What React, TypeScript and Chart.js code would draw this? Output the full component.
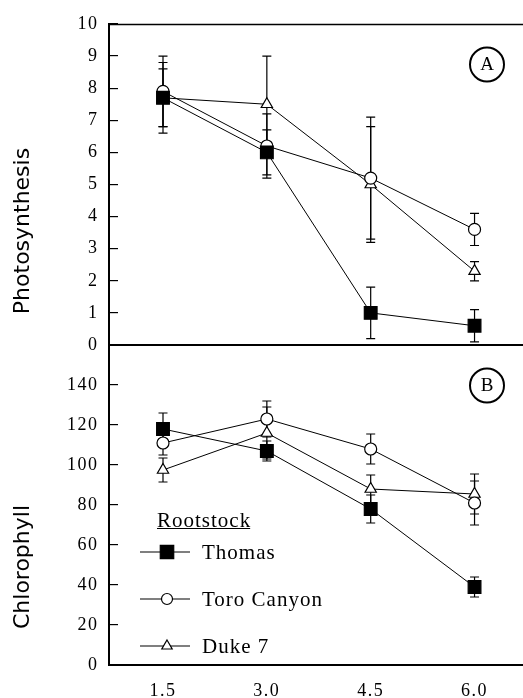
import React, { useEffect, useRef } from 'react';
import { Chart, registerables } from 'chart.js';

Chart.register(...registerables);

// ---------- data ----------
const xValues = [1.5, 3.0, 4.5, 6.0];
const xTicks = [1.5, 3.0, 4.5, 6.0];
const seriesNames = ['Thomas', 'Toro Canyon', 'Duke 7'];

const photoThomas = [7.7, 6.0, 1.0, 0.6];
const photoThomasErr = [1.1, 0.7, 0.8, 0.5];
const photoToro = [7.9, 6.2, 5.2, 3.6];
const photoToroErr = [1.1, 1.0, 1.9, 0.5];
const photoDuke = [7.7, 7.5, 5.0, 2.3];
const photoDukeErr = [0.9, 1.5, 1.8, 0.3];

const chloroThomas = [118, 107, 78, 39];
const chloroThomasErr = [8, 5, 7, 5];
const chloroToro = [111, 123, 108, 81];
const chloroToroErr = [6, 9, 7.5, 11];
const chloroDuke = [97.5, 116, 88, 85.5];
const chloroDukeErr = [6, 13, 7, 10];

const photoTicks = [0, 1, 2, 3, 4, 5, 6, 7, 8, 9, 10];
const chloroTicks = [0, 20, 40, 60, 80, 100, 120, 140];

const photoTitle = 'Photosynthesis';
const chloroTitle = 'Chlorophyll';
const legendTitle = 'Rootstock';
const panelLetters = ['A', 'B'];

// ---------- styles ----------
const W = 523;
const H = 698;
const serif = '"Liberation Serif", "Times New Roman", serif';
const sans = '"DejaVu Sans", sans-serif';
const markerStyles = [
  { pointStyle: 'rect', radius: 9, fill: '#000' },
  { pointStyle: 'circle', radius: 6, fill: '#fff' },
  { pointStyle: 'triangle', radius: 6.5, fill: '#fff' },
];

function makeDatasets(vals: number[][], errs: number[][]) {
  return vals.map((v, i) => ({
    label: seriesNames[i],
    data: xValues.map((x, j) => ({ x, y: v[j] })),
    errors: errs[i],
    borderColor: '#000',
    borderWidth: 1,
    backgroundColor: markerStyles[i].fill,
    pointStyle: markerStyles[i].pointStyle,
    pointRadius: markerStyles[i].radius,
    pointBackgroundColor: markerStyles[i].fill,
    pointBorderColor: '#000',
    pointBorderWidth: 1.2,
    tension: 0,
    clip: false,
  }));
}

const spacingPlugin = {
  id: 'tickSpacing',
  beforeDraw(chart: any) {
    (chart.ctx as any).letterSpacing = '1.5px';
  },
  afterDraw(chart: any) {
    (chart.ctx as any).letterSpacing = '0px';
  },
};

const errorBarPlugin = {
  id: 'errorBars',
  beforeDatasetsDraw(chart: any) {
    const ctx = chart.ctx;
    const ys = chart.scales.y;
    ctx.save();
    ctx.strokeStyle = '#000';
    ctx.lineWidth = 1.2;
    chart.data.datasets.forEach((ds: any, i: number) => {
      const meta = chart.getDatasetMeta(i);
      meta.data.forEach((pt: any, j: number) => {
        const v = ds.data[j].y;
        const e = ds.errors[j];
        const yt = ys.getPixelForValue(v + e);
        const yb = ys.getPixelForValue(v - e);
        const x = pt.x;
        ctx.beginPath();
        ctx.moveTo(x, yt);
        ctx.lineTo(x, yb);
        ctx.moveTo(x - 4.5, yt);
        ctx.lineTo(x + 4.5, yt);
        ctx.moveTo(x - 4.5, yb);
        ctx.lineTo(x + 4.5, yb);
        ctx.stroke();
      });
    });
    ctx.restore();
  },
};

function drawMarker(ctx: CanvasRenderingContext2D, style: string, x: number, y: number, r: number, fill: string) {
  ctx.beginPath();
  if (style === 'rect') {
    const s = Math.SQRT1_2 * r;
    ctx.rect(x - s, y - s, 2 * s, 2 * s);
  } else if (style === 'circle') {
    ctx.arc(x, y, r, 0, Math.PI * 2);
  } else {
    for (let k = 0; k < 3; k++) {
      const a = (k * 2 * Math.PI) / 3;
      const px = x + Math.sin(a) * r;
      const py = y - Math.cos(a) * r;
      if (k === 0) ctx.moveTo(px, py);
      else ctx.lineTo(px, py);
    }
    ctx.closePath();
  }
  ctx.fillStyle = fill;
  ctx.fill();
  ctx.lineWidth = 1.2;
  ctx.strokeStyle = '#000';
  ctx.stroke();
}

function decorPlugin(kind: 'top' | 'bottom') {
  return {
    id: 'decor_' + kind,
    afterDraw(chart: any) {
      const ctx = chart.ctx as CanvasRenderingContext2D;
      const a = chart.chartArea;
      ctx.save();
      (ctx as any).letterSpacing = '0px';
      // panel letter in circle
      const cx = a.right - 36;
      const cy = a.top + 40.5;
      ctx.beginPath();
      ctx.arc(cx, cy, 17, 0, Math.PI * 2);
      ctx.lineWidth = 2;
      ctx.strokeStyle = '#000';
      ctx.stroke();
      ctx.fillStyle = '#000';
      ctx.font = `19px ${serif}`;
      ctx.textAlign = 'center';
      ctx.textBaseline = 'middle';
      ctx.fillText(kind === 'top' ? panelLetters[0] : panelLetters[1], cx, cy + 1);

      // axis title
      ctx.save();
      ctx.font = `22px ${sans}`;
      ctx.fillStyle = '#000';
      ctx.textAlign = 'center';
      ctx.textBaseline = 'middle';
      if (kind === 'top') {
        ctx.translate(23, 231);
        ctx.rotate(-Math.PI / 2);
        ctx.fillText(photoTitle, 0, 0);
      } else {
        ctx.translate(23, 567);
        ctx.rotate(-Math.PI / 2);
        ctx.fillText(chloroTitle, 0, 0);
      }
      ctx.restore();

      if (kind === 'top') {
        // top frame line
        ctx.beginPath();
        ctx.moveTo(a.left, a.top + 0.5);
        ctx.lineTo(a.right, a.top + 0.5);
        ctx.lineWidth = 1.3;
        ctx.strokeStyle = '#000';
        ctx.stroke();
      } else {
        // legend
        (ctx as any).letterSpacing = '1px';
        ctx.font = `21px ${serif}`;
        ctx.fillStyle = '#000';
        ctx.textAlign = 'left';
        ctx.textBaseline = 'middle';
        const tx = a.left + 48;
        const ty = a.top + 176;
        ctx.fillText(legendTitle, tx, ty);
        const tw = ctx.measureText(legendTitle).width;
        ctx.beginPath();
        ctx.moveTo(tx, a.top + 183.5);
        ctx.lineTo(tx + tw - 1, a.top + 183.5);
        ctx.lineWidth = 1;
        ctx.stroke();
        const rows = [207, 254, 301];
        seriesNames.forEach((name, i) => {
          const y = a.top + rows[i];
          ctx.beginPath();
          ctx.moveTo(a.left + 31, y);
          ctx.lineTo(a.left + 81, y);
          ctx.lineWidth = 1.2;
          ctx.strokeStyle = '#000';
          ctx.stroke();
          const m = markerStyles[i];
          drawMarker(ctx, m.pointStyle, a.left + 58, y, m.pointStyle === 'rect' ? 9.5 : m.radius - 0.5, m.fill);
          ctx.fillStyle = '#000';
          ctx.fillText(name, a.left + 93, y + 1);
        });
      }
      ctx.restore();
    },
  };
}

function yAxis(min: number, max: number, ticks: number[]) {
  return {
    type: 'linear',
    min,
    max,
    afterBuildTicks: (s: any) => {
      s.ticks = ticks.map((v) => ({ value: v }));
    },
    afterFit: (s: any) => {
      s.width = 109;
      s.paddingTop = 0;
      s.paddingBottom = 0;
    },
    border: { display: true, color: '#000', width: 2 },
    grid: { drawOnChartArea: false, drawTicks: true, tickLength: -9, color: '#000', lineWidth: 1.2 },
    ticks: {
      color: '#000',
      font: { family: serif, size: 18 },
      padding: 19.5,
    },
  };
}

function xAxis(showLabels: boolean, height: number) {
  return {
    type: 'linear',
    min: 0.72,
    max: 6.7,
    afterBuildTicks: (s: any) => {
      s.ticks = xTicks.map((v) => ({ value: v }));
    },
    afterFit: (s: any) => {
      s.height = height;
      s.paddingLeft = 0;
      s.paddingRight = 0;
    },
    border: { display: true, color: '#000', width: 2 },
    grid: { display: true, drawOnChartArea: false, drawTicks: false, color: 'rgba(0,0,0,0)' },
    ticks: {
      display: showLabels,
      color: '#000',
      font: { family: serif, size: 18 },
      padding: 15,
      callback: (v: any) => Number(v).toFixed(1),
    },
  };
}

function Panel({ kind }: { kind: 'top' | 'bottom' }) {
  const ref = useRef<HTMLCanvasElement | null>(null);
  useEffect(() => {
    if (!ref.current) return;
    const isTop = kind === 'top';
    const datasets = isTop
      ? makeDatasets([photoThomas, photoToro, photoDuke], [photoThomasErr, photoToroErr, photoDukeErr])
      : makeDatasets([chloroThomas, chloroToro, chloroDuke], [chloroThomasErr, chloroToroErr, chloroDukeErr]);
    const chart = new Chart(ref.current, {
      type: 'line',
      data: { datasets } as any,
      options: {
        responsive: false,
        animation: false,
        devicePixelRatio: 1,
        layout: {
          autoPadding: false,
          padding: isTop ? { top: 24, left: 0, right: 0, bottom: 0 } : { top: 345, left: 0, right: 0, bottom: 0 },
        },
        plugins: { legend: { display: false }, tooltip: { enabled: false } },
        scales: {
          x: xAxis(!isTop, isTop ? H - 345 : H - 665),
          y: isTop ? yAxis(0, 10, photoTicks) : yAxis(0, 160, chloroTicks),
        },
      } as any,
      plugins: [spacingPlugin, errorBarPlugin, decorPlugin(kind)],
    });
    return () => chart.destroy();
  }, [kind]);
  return (
    <canvas
      ref={ref}
      width={W}
      height={H}
      style={{ position: 'absolute', left: 0, top: 0, width: W, height: H }}
    />
  );
}

export default function App() {
  return (
    <div style={{ position: 'fixed', left: 0, top: 0, width: W, height: H, background: '#fff' }}>
      <Panel kind="bottom" />
      <Panel kind="top" />
    </div>
  );
}
